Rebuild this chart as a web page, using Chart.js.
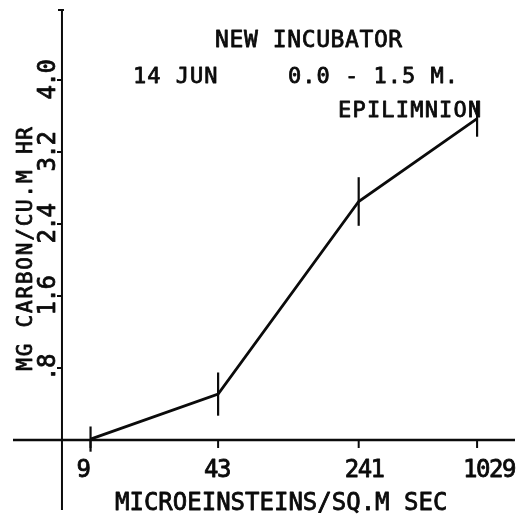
<!DOCTYPE html>
<html>
<head>
<meta charset="utf-8">
<script src="https://cdn.jsdelivr.net/npm/chart.js@4.4.1/dist/chart.umd.min.js"></script>
<style>
  html, body { margin: 0; padding: 0; background: #fff; }
  #wrap { width: 523px; height: 516px; }
</style>
</head>
<body>
<div id="wrap"><canvas id="chart" width="523" height="516"></canvas></div>
<script>
// Light level (microeinsteins / sq.m sec) and carbon uptake (mg C / cu.m hr)
const irradiance = [9, 43, 241, 1029];
const carbonRate = [0.01, 0.51, 2.65, 3.57];
const carbonError = [0.14, 0.24, 0.27, 0.20];

// Axis tick values and their printed labels
const xTickValues = [9, 43, 241, 1029];
const xTickLabels = ['9', '43', '241', '1029'];
const yTickValues = [0.8, 1.6, 2.4, 3.2, 4.0];
const yTickLabels = ['.8', '1.6', '2.4', '3.2', '4.0'];

// Titles
const titleLine = 'NEW INCUBATOR';
const dateText = '14 JUN';
const depthText = '0.0 - 1.5 M.';
const layerText = 'EPILIMNION';
const xTitle = 'MICROEINSTEINS/SQ.M SEC';
const yTitle = 'MG CARBON/CU.M HR';

const ink = '#0b0b0b';
const mono = '"DejaVu Sans Mono", "Liberation Mono", monospace';
const yAxisCrossing = 6.34; // light value where the vertical axis stands

function seg(ctx, x1, y1, x2, y2) {
  ctx.beginPath();
  ctx.moveTo(x1, y1);
  ctx.lineTo(x2, y2);
  ctx.stroke();
}

// pen-style lettering: regular face with a thin outline to thicken strokes
function text(ctx, str, x, y, size, spacing, align, rotate) {
  ctx.save();
  ctx.font = size + 'px ' + mono;
  ctx.fillStyle = ink;
  ctx.strokeStyle = ink;
  ctx.lineWidth = 0.8;
  ctx.lineJoin = 'round';
  ctx.textAlign = align || 'left';
  ctx.textBaseline = 'alphabetic';
  try { ctx.letterSpacing = spacing + 'px'; } catch (e) {}
  ctx.translate(x, y);
  if (rotate) ctx.rotate(-Math.PI / 2);
  ctx.fillText(str, 0, 0);
  ctx.strokeText(str, 0, 0);
  ctx.restore();
}

const plotterFrame = {
  id: 'plotterFrame',
  beforeDatasetsDraw(chart) {
    const { ctx, chartArea: a, scales: { x, y } } = chart;
    const x0 = x.getPixelForValue(yAxisCrossing);
    const y0 = y.getPixelForValue(0);
    ctx.save();
    ctx.strokeStyle = ink;
    ctx.lineCap = 'butt';
    // horizontal axis through zero
    ctx.lineWidth = 2.6;
    seg(ctx, a.left, y0, a.right, y0);
    // vertical axis
    ctx.lineWidth = 2;
    seg(ctx, x0, a.top, x0, a.bottom);
    seg(ctx, x0 - 4, a.top, x0 + 2, a.top);
    // y ticks
    yTickValues.forEach(v => {
      const py = y.getPixelForValue(v);
      seg(ctx, x0 - 5, py, x0, py);
    });
    // x ticks
    xTickValues.forEach(v => {
      const px = x.getPixelForValue(v);
      seg(ctx, px, y0, px, y0 + 8);
    });
    ctx.restore();

    // tick labels
    xTickValues.forEach((v, i) => {
      const px = x.getPixelForValue(v);
      text(ctx, xTickLabels[i], px - 14, y0 + 37, 24, -1.5, 'left', false);
    });
    yTickValues.forEach((v, i) => {
      const py = y.getPixelForValue(v);
      text(ctx, yTickLabels[i], x0 - 7, py, 24, -1.5, 'center', true);
    });

    // axis titles
    text(ctx, xTitle, 115, 510, 24, 0, 'left', false);
    text(ctx, yTitle, 32, 248, 21, 1.8, 'center', true);

    // heading block
    text(ctx, titleLine, 215, 47, 23, 0.6, 'left', false);
    text(ctx, dateText, 133, 83, 22, 1.0, 'left', false);
    text(ctx, depthText, 288, 83, 22, 1.0, 'left', false);
    text(ctx, layerText, 338, 117, 22, 1.2, 'left', false);
  },
  afterDatasetsDraw(chart) {
    const { ctx, scales: { x, y } } = chart;
    ctx.save();
    ctx.strokeStyle = ink;
    ctx.lineWidth = 2.2;
    irradiance.forEach((v, i) => {
      const px = x.getPixelForValue(v);
      const top = y.getPixelForValue(carbonRate[i] + carbonError[i]);
      const bot = y.getPixelForValue(carbonRate[i] - carbonError[i]);
      seg(ctx, px, top, px, bot);
    });
    ctx.restore();
  }
};

new Chart(document.getElementById('chart'), {
  type: 'line',
  data: {
    datasets: [{
      data: irradiance.map((v, i) => ({ x: v, y: carbonRate[i] })),
      borderColor: ink,
      borderWidth: 2.8,
      pointRadius: 0,
      tension: 0,
      fill: false,
      clip: false
    }]
  },
  options: {
    responsive: false,
    animation: false,
    events: [],
    layout: { padding: { left: 13, right: 8, top: 10, bottom: 6 } },
    scales: {
      x: { type: 'logarithmic', min: 3.478, max: 1638, display: false },
      y: { type: 'linear', min: -0.778, max: 4.778, display: false }
    },
    plugins: {
      legend: { display: false },
      tooltip: { enabled: false },
      title: { display: false }
    }
  },
  plugins: [plotterFrame]
});
</script>
</body>
</html>
